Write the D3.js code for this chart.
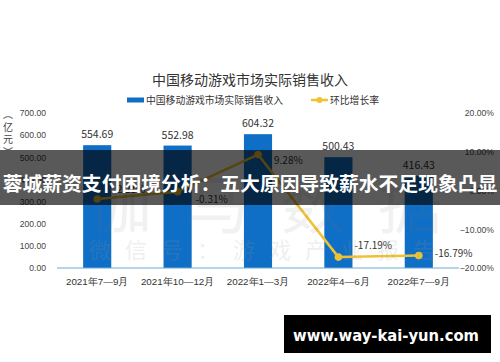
<!DOCTYPE html>
<html><head><meta charset="utf-8">
<script src="https://cdn.jsdelivr.net/npm/d3@7"></script>
<style>
html,body{margin:0;padding:0;background:#fff;}
svg{display:block;font-family:"Noto Sans CJK SC","Noto Sans",sans-serif;}
</style></head>
<body>
<svg id="c" width="500" height="362"></svg>
<script>
const categories = ["2021年7—9月","2021年10—12月","2022年1—3月","2022年4—6月","2022年7—9月"];
const revenue = [554.69, 552.98, 604.32, 500.43, 416.43];
const growth = [-0.0221, -0.0031, 0.0928, -0.1719, -0.1679];
const growthLabels = ["-2.21%","-0.31%","9.28%","-17.19%","-16.79%"];
const leftTicks = [0,100,200,300,400,500,600,700];
const rightTicks = [-0.2,-0.1,0,0.1,0.2];
const title = "中国移动游戏市场实际销售收入";
const legendNames = ["中国移动游戏市场实际销售收入","环比增长率"];
const bannerText = "蓉城薪资支付困境分析：五大原因导致薪水不足现象凸显";
const siteText = "www.way-kai-yun.com";

const svg = d3.select("#c");
const barColor = "#0f6fc6", lineColor = "#f0c232";

const x = d3.scaleBand().domain(categories).range([57,459]).paddingInner(0.65).paddingOuter(0.325);
const yL = d3.scaleLinear().domain([0,700]).range([268,113]);
const yR = d3.scaleLinear().domain([-0.2,0.2]).range([268,113]);

// title
svg.append("text").attr("x",250).attr("y",85).attr("text-anchor","middle")
  .attr("font-size",14).attr("fill","#333").text(title);

// legend
svg.append("rect").attr("x",127).attr("y",97.5).attr("width",17).attr("height",5).attr("fill",barColor);
svg.append("text").attr("x",146).attr("y",103.5).attr("font-size",9.8).attr("fill","#333").text(legendNames[0]);
svg.append("line").attr("x1",311).attr("x2",328).attr("y1",100).attr("y2",100).attr("stroke",lineColor).attr("stroke-width",2.5);
svg.append("circle").attr("cx",319.5).attr("cy",100).attr("r",3).attr("fill",lineColor);
svg.append("text").attr("x",330).attr("y",103.5).attr("font-size",9.8).attr("fill","#333").text(legendNames[1]);

// y unit
["︵","亿","元","︶"].forEach((t,i)=>{
  svg.append("text").attr("x",8).attr("y",118+i*12.5).attr("text-anchor","middle")
    .attr("font-size",10).attr("fill","#444").text(t);
});

// left axis labels
const gl = svg.append("g").attr("transform","translate(46,0)")
  .call(d3.axisLeft(yL).tickValues(leftTicks).tickSize(0).tickPadding(0).tickFormat(d3.format(".2f")));
gl.select(".domain").remove();
gl.selectAll("text").attr("font-size",8.6).attr("fill","#444").attr("font-family",null);

// right axis labels
const gr = svg.append("g").attr("transform","translate(494,0)")
  .call(d3.axisLeft(yR).tickValues(rightTicks).tickSize(0).tickPadding(0).tickFormat(d3.format(".2%")));
gr.select(".domain").remove();
gr.selectAll("text").attr("font-size",8.6).attr("fill","#444").attr("font-family",null);

// bars
svg.selectAll(".bar").data(revenue).join("rect").attr("class","bar")
  .attr("x",(d,i)=>x(categories[i])).attr("width",x.bandwidth())
  .attr("y",d=>yL(d)).attr("height",d=>yL(0)-yL(d)).attr("fill",barColor);

// bar labels
svg.selectAll(".bl").data(revenue).join("text").attr("class","bl")
  .attr("x",(d,i)=>x(categories[i])+x.bandwidth()/2).attr("y",d=>yL(d)-7)
  .attr("text-anchor","middle").attr("font-size",10.5).attr("fill","#333")
  .text(d=>d3.format(".2f")(d));

// baseline
svg.append("line").attr("x1",57).attr("x2",459).attr("y1",yL(0)).attr("y2",yL(0))
  .attr("stroke","#6aaad6").attr("stroke-width",1);

// x axis labels
const gx = svg.append("g").attr("transform",`translate(0,${yL(0)})`)
  .call(d3.axisBottom(x).tickSize(0).tickPadding(10));
gx.select(".domain").remove();
gx.selectAll("text").attr("font-size",9.8).attr("fill","#333").attr("font-family",null);

// line
const cx = (i)=>x(categories[i])+x.bandwidth()/2;
const line = d3.line().x((d,i)=>cx(i)).y(d=>yR(d));
svg.append("path").datum(growth).attr("d",line).attr("fill","none")
  .attr("stroke",lineColor).attr("stroke-width",2.5).attr("stroke-linejoin","round");
svg.selectAll(".pt").data(growth).join("circle").attr("class","pt")
  .attr("cx",(d,i)=>cx(i)).attr("cy",d=>yR(d)).attr("r",3.8).attr("fill",lineColor);

// line labels (offsets per label)
const offs = [[16,-6],[18,11],[16,9.5],[16,-8],[16,1.5]];
svg.selectAll(".ll").data(growth).join("text").attr("class","ll")
  .attr("x",(d,i)=>cx(i)+offs[i][0]).attr("y",(d,i)=>yR(d)+offs[i][1])
  .attr("font-size",10).attr("fill","#333").text((d,i)=>growthLabels[i]);

// watermarks
const wm = ["伽","马","数","据"];
const wmx = [120,217,313,410];
wm.forEach((t,i)=>{
  svg.append("text").attr("x",wmx[i]).attr("y",228).attr("text-anchor","middle")
    .attr("font-size",64).attr("fill","#777").attr("fill-opacity",0.1).text(t);
});
const wm2 = ["微","信","号","：","游","戏","产","业","报","告"];
wm2.forEach((t,i)=>{
  svg.append("text").attr("x",100+i*36).attr("y",258).attr("text-anchor","middle")
    .attr("font-size",22).attr("fill","#999").attr("fill-opacity",0.18).text(t);
});

// banner overlay
svg.append("rect").attr("x",0).attr("y",150).attr("width",500).attr("height",55)
  .attr("fill","#000").attr("fill-opacity",0.65);
svg.append("text").attr("x",250).attr("y",190.5).attr("text-anchor","middle")
  .attr("font-size",19.8).attr("font-weight","bold").attr("fill","#fff").text(bannerText);

// site banner
svg.append("rect").attr("x",284).attr("y",315).attr("width",207).attr("height",38).attr("fill","#000");
svg.append("text").attr("x",293).attr("y",341).attr("font-size",16).attr("font-weight","bold")
  .attr("font-family","DejaVu Sans, sans-serif").attr("fill","#fff")
  .attr("textLength",186).attr("lengthAdjust","spacingAndGlyphs").text(siteText);
</script>
</body></html>
